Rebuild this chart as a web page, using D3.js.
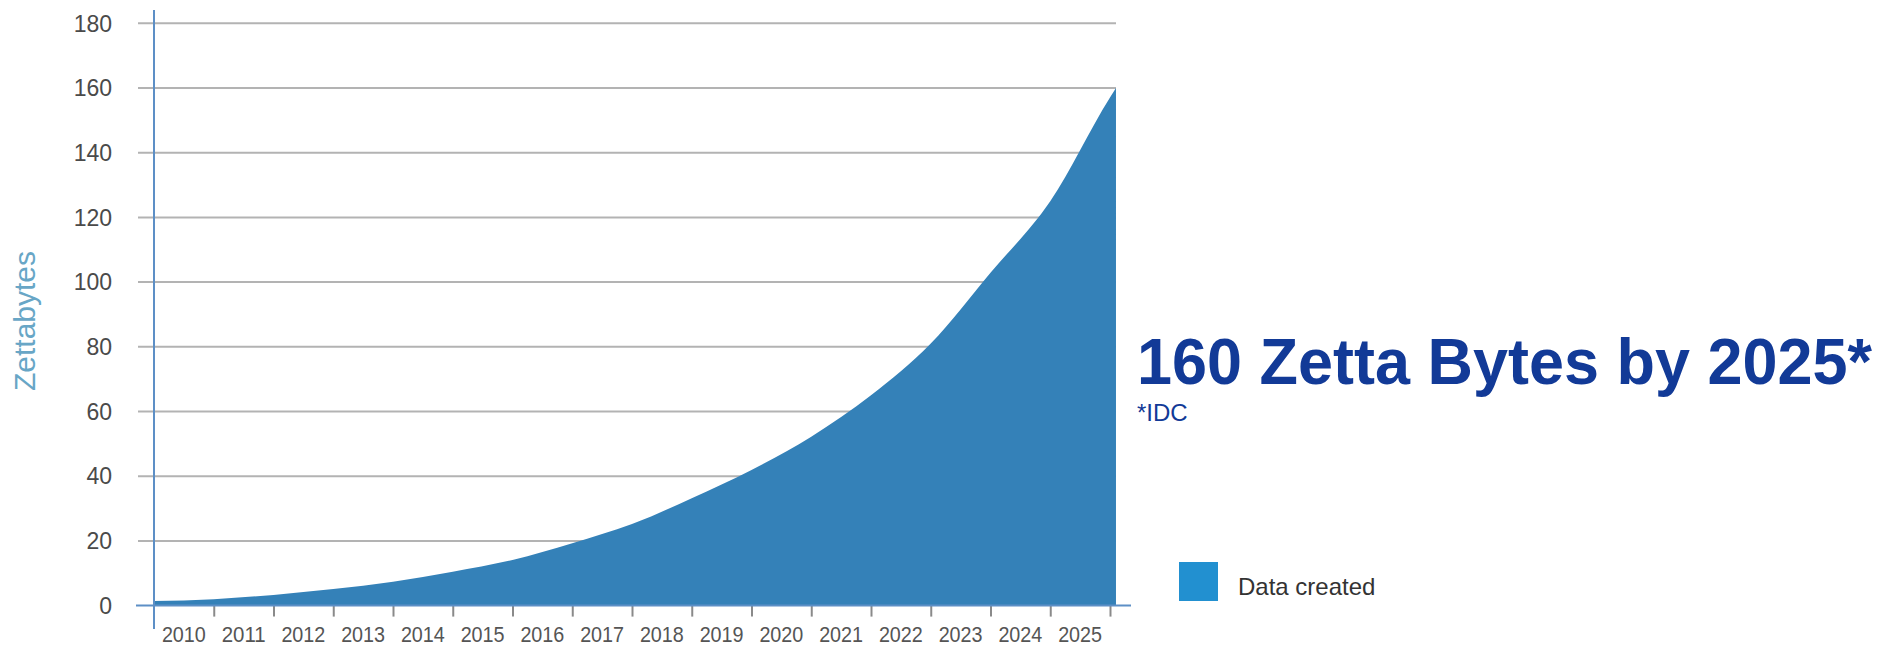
<!DOCTYPE html>
<html>
<head>
<meta charset="utf-8">
<script src="https://cdn.jsdelivr.net/npm/d3@7/dist/d3.min.js"></script>
<style>
  html, body { margin: 0; padding: 0; background: #ffffff; }
  svg { display: block; font-family: "Liberation Sans", Arial, Helvetica, sans-serif; }
</style>
</head>
<body>
<svg id="chart" width="1896" height="647"></svg>
<script>
// ---- data ----
const yearLabels = [2010, 2011, 2012, 2013, 2014, 2015, 2016, 2017, 2018, 2019, 2020, 2021, 2022, 2023, 2024, 2025];
const curveYears = [2010, 2011, 2012, 2013, 2014, 2015, 2016, 2017, 2018, 2019, 2020, 2021, 2022, 2023, 2024, 2025, 2026, 2026.1];
const zettabytes = [1.4, 2.0, 3.3, 5.1, 7.4, 10.5, 14.1, 19.3, 25.2, 33.2, 41.9, 52.2, 65.0, 81.0, 102.9, 125.0, 157.1, 160];
const yTicks = [0, 20, 40, 60, 80, 100, 120, 140, 160, 180];
const boundaryTicks = [2011, 2012, 2013, 2014, 2015, 2016, 2017, 2018, 2019, 2020, 2021, 2022, 2023, 2024, 2025, 2026];
const seriesName = "Data created";
const yTitle = "Zettabytes";
const headline = "160 Zetta Bytes by 2025*";
const sourceNote = "*IDC";

const svg = d3.select("#chart");

const x = d3.scaleLinear().domain([2010, 2026]).range([154, 1110]);
const y = d3.scaleLinear().domain([0, 180]).range([605.6, 23.3]);

const axisBlue = "#5d8fc6";

// gridlines
svg.append("g")
  .selectAll("line")
  .data(yTicks.filter(d => d > 0))
  .join("line")
  .attr("x1", 138).attr("x2", 1116)
  .attr("y1", d => y(d)).attr("y2", d => y(d))
  .attr("stroke", "#b3b3b3").attr("stroke-width", 2);

// area
const data = curveYears.map((yr, i) => ({ yr, v: zettabytes[i] }));
const area = d3.area()
  .x(d => x(d.yr))
  .y0(y(0))
  .y1(d => y(d.v))
  .curve(d3.curveMonotoneX);
svg.append("path")
  .datum(data)
  .attr("d", area)
  .attr("fill", "#3481b8");

// x axis ticks
const xAxis = d3.axisBottom(x)
  .tickValues(boundaryTicks)
  .tickFormat("")
  .tickSize(11)
  .tickSizeOuter(0);
const gx = svg.append("g").attr("transform", `translate(0,${y(0)})`).call(xAxis);
gx.select(".domain").remove();
gx.selectAll(".tick line").attr("stroke", "#8a8a8a").attr("stroke-width", 2);

// x axis line
svg.append("line")
  .attr("x1", 136).attr("x2", 1131)
  .attr("y1", y(0)).attr("y2", y(0))
  .attr("stroke", axisBlue).attr("stroke-width", 2);

// y axis line
svg.append("line")
  .attr("x1", 154).attr("x2", 154)
  .attr("y1", 10).attr("y2", 629)
  .attr("stroke", axisBlue).attr("stroke-width", 2);

// x labels
svg.append("g")
  .selectAll("text")
  .data(yearLabels)
  .join("text")
  .attr("x", d => x(d + 0.5))
  .attr("y", 642)
  .attr("text-anchor", "middle")
  .attr("font-size", 22)
  .attr("textLength", 44)
  .attr("lengthAdjust", "spacingAndGlyphs")
  .attr("fill", "#555")
  .text(d => d);

// y labels
svg.append("g")
  .selectAll("text")
  .data(yTicks)
  .join("text")
  .attr("x", 112)
  .attr("y", d => y(d))
  .attr("dy", "0.36em")
  .attr("text-anchor", "end")
  .attr("font-size", 23)
  .attr("fill", "#4a4a4a")
  .text(d => d);

// y title
svg.append("text")
  .attr("transform", "translate(35,321) rotate(-90)")
  .attr("text-anchor", "middle")
  .attr("font-size", 30)
  .attr("fill", "#68a6c6")
  .text(yTitle);

// headline
svg.append("text")
  .attr("x", 1137).attr("y", 384)
  .attr("font-size", 64)
  .attr("font-weight", "bold")
  .attr("textLength", 735)
  .attr("lengthAdjust", "spacingAndGlyphs")
  .attr("fill", "#123a97")
  .text(headline);

svg.append("text")
  .attr("x", 1137).attr("y", 421)
  .attr("font-size", 24)
  .attr("fill", "#123a97")
  .text(sourceNote);

// legend
svg.append("rect")
  .attr("x", 1179).attr("y", 562)
  .attr("width", 39).attr("height", 39)
  .attr("fill", "#2290d0");
svg.append("text")
  .attr("x", 1238).attr("y", 595)
  .attr("font-size", 24)
  .attr("fill", "#333")
  .text(seriesName);
</script>
</body>
</html>
